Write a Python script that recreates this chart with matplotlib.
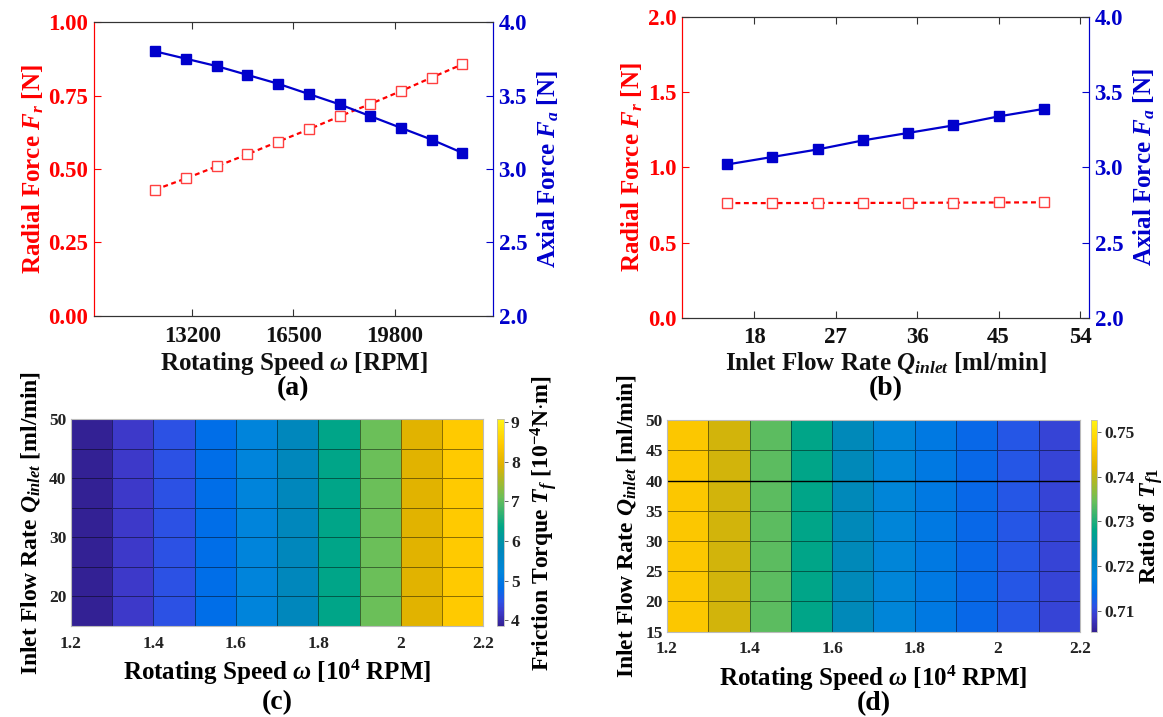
import numpy as np
import matplotlib
matplotlib.use("Agg")
import matplotlib.pyplot as plt
from matplotlib.colors import LinearSegmentedColormap

plt.rcParams['font.family'] = ['Liberation Serif', 'DejaVu Serif']
plt.rcParams['font.weight'] = 'bold'
plt.rcParams['axes.labelweight'] = 'bold'
plt.rcParams['mathtext.fontset'] = 'custom'
plt.rcParams['mathtext.it'] = 'Liberation Serif:italic:bold'
plt.rcParams['mathtext.rm'] = 'Liberation Serif:bold'
plt.rcParams['mathtext.bf'] = 'Liberation Serif:bold'

# (a) forces vs rotating speed
speed_a = [12000, 13000, 14000, 15000, 16000, 17000, 18000, 19000, 20000, 21000, 22000]
radial_a = [0.430, 0.468, 0.509, 0.550, 0.593, 0.635, 0.679, 0.721, 0.765, 0.811, 0.856]
axial_a = [3.80, 3.75, 3.70, 3.64, 3.58, 3.51, 3.44, 3.36, 3.28, 3.20, 3.11]

# (b) forces vs inlet flow rate
flow_b = [15, 20, 25, 30, 35, 40, 45, 50]
radial_b = [0.763, 0.763, 0.764, 0.764, 0.765, 0.766, 0.767, 0.768]
axial_b = [3.02, 3.07, 3.12, 3.18, 3.23, 3.28, 3.34, 3.39]

# (c), (d) maps: cell edges and one value per speed cell (same for every flow row)
speed_edges = [1.2, 1.3, 1.4, 1.5, 1.6, 1.7, 1.8, 1.9, 2.0, 2.1, 2.2]
flow_edges = [15, 20, 25, 30, 35, 40, 45, 50]
torque_cells = [3.86, 4.22, 4.49, 4.80, 5.21, 5.74, 6.36, 7.09, 7.92, 8.44]
ratio_cells = [0.7465, 0.7412, 0.7337, 0.7280, 0.7228, 0.7181, 0.7157, 0.7133, 0.7114, 0.7096]
torque_range = (3.86, 9.07)
ratio_range = (0.7053, 0.7526)

# parula-like colormap, tuned to the printed colours
cmap = LinearSegmentedColormap.from_list('parula_like', [
    (0.00, (0.20, 0.13, 0.58)),
    (0.07, (0.24, 0.23, 0.80)),
    (0.12, (0.17, 0.32, 0.90)),
    (0.18, (0.00, 0.43, 0.91)),
    (0.26, (0.00, 0.52, 0.86)),
    (0.36, (0.00, 0.53, 0.74)),
    (0.48, (0.00, 0.65, 0.53)),
    (0.62, (0.42, 0.75, 0.35)),
    (0.78, (0.88, 0.70, 0.00)),
    (0.88, (1.00, 0.79, 0.00)),
    (1.00, (1.00, 0.95, 0.08))], N=256)

fig = plt.figure(figsize=(11.63, 7.17), dpi=100)

red = '#ff0000'
blue = '#0000cc'
dark = '#333333'
H = 717.0


def force_panel(rect, x, yr, ya, rlim, rticks, rfmt, xlim, xticks, xlabel, tag):
    ax = fig.add_axes(rect)
    ax2 = ax.twinx()
    ax.plot(x, yr, ls='--', color=red, lw=1.6, marker='s', ms=6.5,
            mfc='white', mec='#ff4040', mew=1.0, dashes=(2.2, 1.6))
    ax2.plot(x, ya, ls='-', color=blue, lw=1.6, marker='s', ms=6.5,
             mfc=blue, mec=blue)
    ax.set_xlim(*xlim)
    ax.set_xticks(xticks)
    ax.set_ylim(*rlim)
    ax.set_yticks(rticks)
    ax.set_yticklabels([rfmt % t for t in rticks])
    ax2.set_ylim(2, 4)
    ax2.set_yticks([2.0, 2.5, 3.0, 3.5, 4.0])
    ax2.set_yticklabels(['2.0', '2.5', '3.0', '3.5', '4.0'])
    for a in (ax, ax2):
        a.spines['top'].set_color(dark)
        a.spines['bottom'].set_color(dark)
        a.spines['left'].set_color(red)
        a.spines['right'].set_color(blue)
    ax.tick_params(axis='x', top=True, direction='in', colors=dark,
                   labelcolor='#111111', labelsize=16.5, length=5, pad=7)
    ax.tick_params(axis='y', direction='in', colors=red, labelsize=16.5, length=5, pad=4)
    ax2.tick_params(axis='y', direction='in', colors=blue, labelsize=16.5, length=5, pad=4)
    ax.set_ylabel('Radial Force $F_r$ [N]', color=red, fontsize=18, labelpad=2)
    ax2.set_ylabel('Axial Force $F_a$ [N]', color=blue, fontsize=18, labelpad=6)
    cx = rect[0] + rect[2] / 2
    fig.text(cx, 1 - 363 / H, xlabel, ha='center', va='center', fontsize=18, color='#111111')
    fig.text(cx, 1 - 389 / H, tag, ha='center', va='center', fontsize=20)
    return ax


force_panel([0.0808, 0.5593, 0.3431, 0.4100], speed_a, radial_a, axial_a,
            (0, 1), [0, 0.25, 0.5, 0.75, 1.0], '%.2f', (10000, 23000),
            [13200, 16500, 19800], r'Rotating Speed $\omega$ [RPM]', '(a)')
force_panel([0.5862, 0.5569, 0.3502, 0.4190], flow_b, radial_b, axial_b,
            (0, 2), [0, 0.5, 1.0, 1.5, 2.0], '%.1f', (10, 55),
            [18, 27, 36, 45, 54], r'Inlet Flow Rate $Q_{inlet}$ [ml/min]', '(b)')


def map_panel(rect, crect, cells, vrange, yticks, cticks, cfmt, clabel, tag, xl_y, tag_y, cpad):
    ax = fig.add_axes(rect)
    C = np.tile(np.array(cells), (len(flow_edges) - 1, 1))
    m = ax.pcolormesh(speed_edges, flow_edges, C, cmap=cmap, vmin=vrange[0], vmax=vrange[1],
                      edgecolors=(0, 0, 0, 0.45), linewidth=0.7)
    ax.set_xlim(1.2, 2.2)
    ax.set_ylim(15, 50)
    ax.set_xticks([1.2, 1.4, 1.6, 1.8, 2.0, 2.2])
    ax.set_xticklabels(['1.2', '1.4', '1.6', '1.8', '2', '2.2'])
    ax.set_yticks(yticks)
    for s in ax.spines.values():
        s.set_color('#bbbbbb')
        s.set_linewidth(0.8)
    ax.tick_params(axis='x', length=0, labelsize=12.5, labelcolor='#222222', pad=7)
    ax.tick_params(axis='y', length=0, labelsize=12.5, labelcolor='#222222', pad=3)
    ax.set_ylabel(r'Inlet Flow Rate $Q_{inlet}$ [ml/min]', fontsize=17, labelpad=5)
    cx = rect[0] + rect[2] / 2
    fig.text(cx, 1 - xl_y / H, r'Rotating Speed $\omega$ [10$^4$ RPM]',
             ha='center', va='center', fontsize=18)
    fig.text(cx, 1 - tag_y / H, tag, ha='center', va='center', fontsize=20)
    cax = fig.add_axes(crect)
    cb = fig.colorbar(m, cax=cax)
    cb.set_ticks(cticks)
    cb.set_ticklabels([cfmt % t for t in cticks])
    cb.outline.set_edgecolor('#bbbbbb')
    cb.outline.set_linewidth(0.6)
    cax.tick_params(length=3, width=0.6, color='#444444', labelsize=12.5,
                    labelcolor='#222222', pad=2)
    cb.set_label(clabel, fontsize=17, labelpad=cpad)
    return ax


map_panel([0.0608, 0.1269, 0.3549, 0.2883], [0.4276, 0.1269, 0.0058, 0.2883],
          torque_cells, torque_range, [20, 30, 40, 50], [4, 5, 6, 7, 8, 9], '%d',
          r'Friction Torque $T_f$ [10$^{-4}$N$\cdot$m]', '(c)', 672, 703, 6)
axd = map_panel([0.5735, 0.1190, 0.3551, 0.2950], [0.9381, 0.1190, 0.0052, 0.2950],
                ratio_cells, ratio_range, [15, 20, 25, 30, 35, 40, 45, 50],
                [0.71, 0.72, 0.73, 0.74, 0.75], '%.2f', r'Ratio of $T_{f1}$', '(d)', 678, 704, 2)
axd.axhline(40, color='black', lw=1.0)

fig.savefig('out.png', dpi=100)
